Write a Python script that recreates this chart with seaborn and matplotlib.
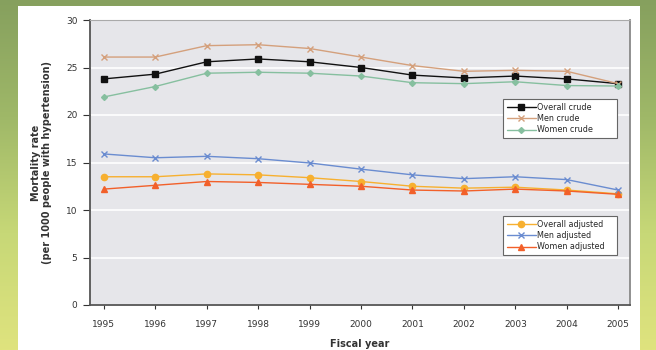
import numpy as np
import pandas as pd
import matplotlib
matplotlib.use("Agg")
import matplotlib.pyplot as plt
import seaborn as sns
from matplotlib.patches import Rectangle

# data
years = [1995, 1996, 1997, 1998, 1999, 2000, 2001, 2002, 2003, 2004, 2005]

overall_crude = [23.8, 24.3, 25.6, 25.9, 25.6, 25.0, 24.2, 23.9, 24.1, 23.8, 23.3]
men_crude = [26.1, 26.1, 27.3, 27.4, 27.0, 26.1, 25.2, 24.6, 24.7, 24.6, 23.3]
women_crude = [21.9, 23.0, 24.4, 24.5, 24.4, 24.1, 23.4, 23.3, 23.5, 23.1, 23.05]

overall_adjusted = [13.5, 13.5, 13.8, 13.7, 13.4, 13.0, 12.5, 12.3, 12.4, 12.1, 11.7]
men_adjusted = [15.9, 15.5, 15.65, 15.4, 14.95, 14.3, 13.7, 13.3, 13.5, 13.2, 12.1]
women_adjusted = [12.2, 12.6, 13.0, 12.9, 12.7, 12.5, 12.1, 12.0, 12.2, 12.0, 11.65]

crude_labels = ["Overall crude", "Men crude", "Women crude"]
adjusted_labels = ["Overall adjusted", "Men adjusted", "Women adjusted"]

series = {
    "Overall crude": overall_crude,
    "Men crude": men_crude,
    "Women crude": women_crude,
    "Overall adjusted": overall_adjusted,
    "Men adjusted": men_adjusted,
    "Women adjusted": women_adjusted,
}
styles = {
    "Overall crude": ("#111111", "s", 4.5),
    "Men crude": ("#d4a07c", "x", 4.5),
    "Women crude": ("#86bf9f", "D", 3.0),
    "Overall adjusted": ("#f7b030", "o", 4.5),
    "Men adjusted": ("#6a8cd0", "x", 4.5),
    "Women adjusted": ("#f2602a", "^", 4.5),
}

df = pd.DataFrame([
    {"Fiscal year": y, "rate": v, "series": name}
    for name, vals in series.items() for y, v in zip(years, vals)
])

sns.set_theme(style="white")
plt.rcParams["font.family"] = ["Liberation Sans Narrow", "DejaVu Sans"]

fig = plt.figure(figsize=(6.56, 3.5), dpi=100)

# slide background: green gradient with a white panel
bg = fig.add_axes([0, 0, 1, 1], zorder=-10)
grad = np.linspace(0, 1, 256).reshape(-1, 1)
cmap = matplotlib.colors.LinearSegmentedColormap.from_list(
    "slide", ["#86a05e", "#9fb868", "#c7d877", "#dfe37e"])
bg.imshow(grad, aspect="auto", cmap=cmap, extent=[0, 1, 0, 1], origin="upper")
bg.add_patch(Rectangle((18 / 656, 0), (640 - 18) / 656, 344 / 350,
                       facecolor="white", edgecolor="none"))
bg.set_xlim(0, 1)
bg.set_ylim(0, 1)
bg.axis("off")

ax = fig.add_axes([90 / 656, 45 / 350, 540 / 656, 285 / 350])
ax.set_facecolor("#e6e6ea")

for name in series:
    color, marker, ms = styles[name]
    sns.lineplot(data=df[df["series"] == name], x="Fiscal year", y="rate",
                 ax=ax, color=color, marker=marker, markersize=ms,
                 markeredgecolor=color, markeredgewidth=1.0, linewidth=1.0,
                 label=name, legend=False)

ax.set_xlim(1994.73, 2005.23)
ax.set_ylim(0, 30)
ax.set_xticks(years)
ax.set_yticks(range(0, 31, 5))
ax.tick_params(axis="both", labelsize=6.5, colors="#333333", length=5,
               width=0.8, direction="out", left=True, bottom=True, pad=4)
ax.tick_params(axis="x", length=3, pad=8)
ax.yaxis.grid(True, color="white", linewidth=1.2)
ax.set_axisbelow(True)

for side in ["left", "bottom"]:
    ax.spines[side].set_color("#555555")
    ax.spines[side].set_linewidth(1.3)
ax.spines["right"].set_color("#888888")
ax.spines["right"].set_linewidth(1.3)
ax.spines["top"].set_color("#aaaaaa")
ax.spines["top"].set_linewidth(0.8)

ax.set_xlabel("Fiscal year", fontsize=7, fontweight="bold", color="#333333",
              labelpad=7)
ax.set_ylabel("Mortality rate\n(per 1000 people with hypertension)", fontsize=7,
              fontweight="bold", color="#333333", labelpad=10)

handles, labels = ax.get_legend_handles_labels()
hmap = dict(zip(labels, handles))
leg_kw = dict(loc="upper left", mode="expand", fontsize=5.8, frameon=True,
              fancybox=False, handlelength=3.6, borderpad=0.45,
              labelspacing=0.3, handletextpad=0.2, edgecolor="#666666",
              framealpha=1, borderaxespad=0)
leg1 = ax.legend([hmap[l] for l in crude_labels], crude_labels,
                 bbox_to_anchor=(413 / 540, 1 - 117 / 285, 114 / 540, 38 / 285),
                 **leg_kw)
leg1.get_frame().set_linewidth(0.8)
ax.add_artist(leg1)
leg2 = ax.legend([hmap[l] for l in adjusted_labels], adjusted_labels,
                 bbox_to_anchor=(413 / 540, 1 - 234 / 285, 114 / 540, 38 / 285),
                 **leg_kw)
leg2.get_frame().set_linewidth(0.8)

fig.savefig("out.png", dpi=100)
